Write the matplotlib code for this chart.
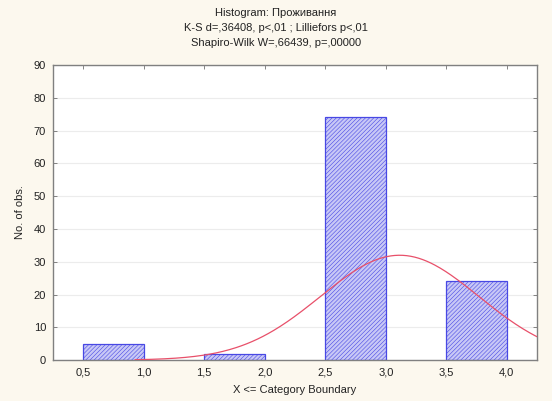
import numpy as np
import matplotlib
matplotlib.use("Agg")
import matplotlib.pyplot as plt

plt.rcParams['font.family'] = ['Liberation Sans', 'DejaVu Sans']
plt.rcParams['hatch.color'] = '#8c8ce8'
plt.rcParams['hatch.linewidth'] = 0.4

# Data
bin_lefts = [0.5, 1.5, 2.5, 3.5]
bin_width = 0.5
counts = [5, 2, 74, 24]
values = [1.0, 2.0, 3.0, 4.0]   # upper category boundaries (X <= boundary)
xticks = [0.5, 1.0, 1.5, 2.0, 2.5, 3.0, 3.5, 4.0]
xticklabels = ['0,5', '1,0', '1,5', '2,0', '2,5', '3,0', '3,5', '4,0']
yticks = [0, 10, 20, 30, 40, 50, 60, 70, 80, 90]
title = "Histogram: Проживання\nK-S d=,36408, p<,01 ; Lilliefors p<,01\nShapiro-Wilk W=,66439, p=,00000"

# Normal fit from the counts
n = sum(counts)
v = np.array(values); c = np.array(counts)
mean = (v * c).sum() / n
sd = np.sqrt(((v - mean) ** 2 * c).sum() / (n - 1))
xs = np.linspace(0.93, 4.25, 300)
ys = n * bin_width * np.exp(-0.5 * ((xs - mean) / sd) ** 2) / (sd * np.sqrt(2 * np.pi))

fig = plt.figure(figsize=(5.52, 4.01), dpi=100, facecolor='#fcf8ee')
ax = fig.add_axes([0.096, 0.102, 0.877, 0.736])
ax.set_facecolor('white')

ax.bar(bin_lefts, counts, width=bin_width, align='edge', facecolor='#c8c8f6',
       edgecolor='#4848e4', linewidth=0.9, hatch='////////', zorder=2)
ax.plot(xs, ys, color='#e8506a', linewidth=0.9, zorder=3)

ax.set_xlim(0.25, 4.25)
ax.set_ylim(0, 90)
ax.set_xticks(xticks)
ax.set_xticklabels(xticklabels)
ax.set_yticks(yticks)
ax.yaxis.grid(True, color='#ececec', linewidth=0.8, zorder=0)
ax.set_axisbelow(True)
ax.tick_params(axis='both', labelsize=8, length=3, width=0.6, color='#707070',
               direction='in', top=True, right=True, labelcolor='#222222', pad=5)
for s in ax.spines.values():
    s.set_color('#808080')
    s.set_linewidth(1.0)

ax.set_xlabel('X <= Category Boundary', fontsize=8, color='#222222', labelpad=6)
ax.set_ylabel('No. of obs.', fontsize=8, color='#222222', labelpad=6)
fig.text(0.5, 0.930, title, ha='center', va='center', fontsize=8,
         color='#222222', linespacing=1.6)

fig.savefig('out.png', dpi=100, facecolor=fig.get_facecolor())
